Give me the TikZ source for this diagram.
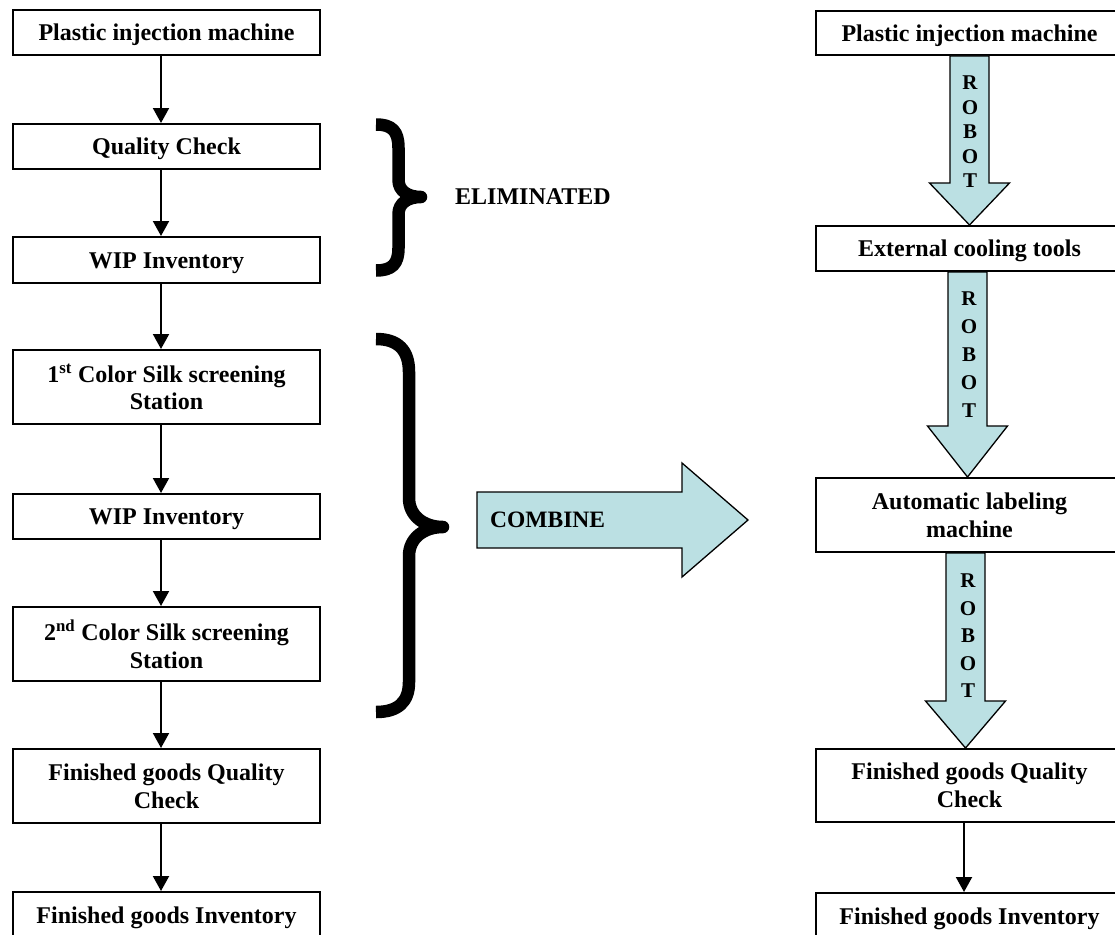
\documentclass[tikz,border=0pt]{standalone}
\usepackage{fontspec}
\setmainfont{Liberation Serif}
\usetikzlibrary{arrows.meta,calc}
\definecolor{robotblue}{RGB}{187,224,227}
\newcommand{\robotarrow}[4]{%
  \path ([xshift=#3pt]#1.south) coordinate (rs) ([xshift=#3pt]#2.north) coordinate (re);
  \draw[robotshape] ($(rs)+(-19.5,0)$) -- ($(re)+(-19.5,-#4)$) -- ($(re)+(-40,-#4)$) -- (re)
     -- ($(re)+(40,-#4)$) -- ($(re)+(19.5,-#4)$) -- ($(rs)+(19.5,0)$) -- cycle;
}
\begin{document}
\begin{tikzpicture}[x=1pt,y=-1pt,
  box/.style={draw,line width=2pt,minimum width=307pt,inner sep=0pt,align=center,
              font=\fontsize{24}{27.6}\selectfont\bfseries},
  oneline/.style={text height=21.4pt,text depth=5.2pt},
  flow/.style={line width=2pt,-{Triangle[width=16pt,length=15pt]}},
  robotshape/.style={draw,line width=1.3pt,fill=robotblue,line join=miter},
  robottext/.style={align=center,inner sep=0pt,font=\fontsize{21}{#1}\selectfont\bfseries},
  bracestyle/.style={line width=12.5pt,line join=round},
  lbl/.style={inner sep=0pt,anchor=west,font=\fontsize{24}{28}\selectfont\bfseries}]
\useasboundingbox (0,0) rectangle (1115,934);
\clip (0,0) rectangle (1115,934);

% left column
\node[box,oneline,minimum height=45pt] (L1) at (166.5,32.5) {Plastic injection machine};
\node[box,oneline,minimum height=45pt] (L2) at (166.5,146.5) {Quality Check};
\node[box,oneline,minimum height=46pt] (L3) at (166.5,260) {WIP Inventory};
\node[box,minimum height=74pt] (L4) at (166.5,387) {1\textsuperscript{st} Color Silk screening\\Station};
\node[box,oneline,minimum height=45pt] (L5) at (166.5,516.5) {WIP Inventory};
\node[box,minimum height=74pt] (L6) at (166.5,644) {2\textsuperscript{nd} Color Silk screening\\Station};
\node[box,minimum height=74pt] (L7) at (166.5,786) {Finished goods Quality\\Check};
\node[box,oneline,minimum height=46pt] (L8) at (166.5,915) {Finished goods Inventory};

\foreach \a/\b in {L1/L2,L2/L3,L3/L4,L4/L5,L5/L6,L6/L7,L7/L8}
  \draw[flow] ([xshift=-5.5pt]\a.south) -- ([xshift=-5.5pt]\b.north);

% right column
\node[box,oneline,minimum height=44pt] (R1) at (969.5,33) {Plastic injection machine};
\node[box,oneline,minimum height=45pt] (R2) at (969.5,248.5) {External cooling tools};
\node[box,minimum height=74pt] (R3) at (969.5,515) {Automatic labeling\\machine};
\node[box,minimum height=73pt] (R4) at (969.5,785.5) {Finished goods Quality\\Check};
\node[box,oneline,minimum height=46pt] (R5) at (969.5,916) {Finished goods Inventory};

\robotarrow{R1}{R2}{0}{42}
\robotarrow{R2}{R3}{-2}{51}
\robotarrow{R3}{R4}{-4}{47}
\node[robottext=24.5] (T1) at (970,132) {R\\O\\B\\O\\T};
\node[robottext=28] (T2) at (969,355) {R\\O\\B\\O\\T};
\node[robottext=27.5] (T3) at (968,636) {R\\O\\B\\O\\T};

\draw[flow] ([xshift=-5.5pt]R4.south) -- ([xshift=-5.5pt]R5.north);

% braces
\draw[bracestyle] (376,124.5) .. controls (392,124.5) and (398.5,131) .. (398.5,148)
   -- (398.5,180) .. controls (398.5,191) and (408,197) .. (421,197)
   .. controls (408,197) and (398.5,203) .. (398.5,214)
   -- (398.5,248) .. controls (398.5,264) and (392,270.5) .. (376,270.5);
\node[lbl] (elim) at (455,197) {ELIMINATED};

\draw[bracestyle] (376,339) .. controls (398,339) and (409,350) .. (409,372)
   -- (409,498) .. controls (409,516) and (424,527) .. (443,527)
   .. controls (424,527) and (409,538) .. (409,556)
   -- (409,682) .. controls (409,702) and (398,712) .. (376,712);

% combine arrow
\draw[robotshape] (477,492) -- (682,492) -- (682,463) -- (748,520) -- (682,577)
   -- (682,548) -- (477,548) -- cycle;
\node[lbl,font=\fontsize{23.5}{28}\selectfont\bfseries] (comb) at (490,520) {COMBINE};
\end{tikzpicture}
\end{document}
